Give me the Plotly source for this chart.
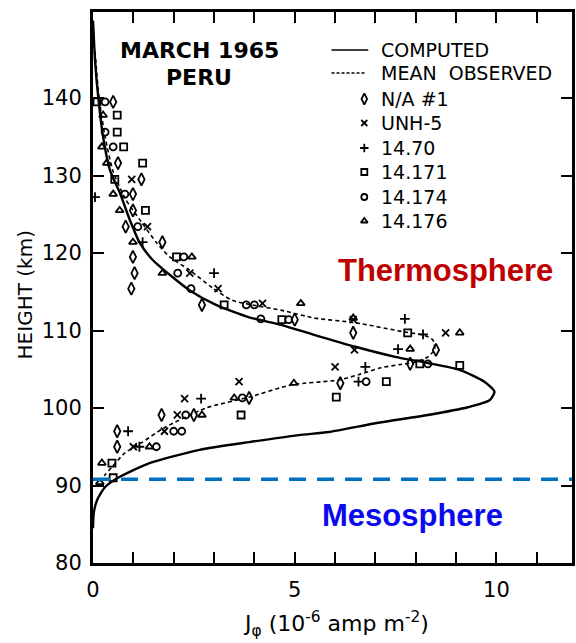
import plotly.graph_objects as go

# ---------------- data ----------------
# computed current density curve (x: J, y: height km)
comp_j = [0.0, 0.05, 0.12, 0.25, 0.42, 0.67, 0.91, 1.16, 1.48, 1.97, 2.39, 3.05, 3.87, 4.68, 5.5,
          6.5, 7.49, 8.3, 9.1, 9.7, 9.95, 9.83, 9.29, 8.3, 7.07, 5.84, 5.1, 3.87, 2.64, 1.4,
          0.62, 0.3, 0.1, 0.02, 0.0]
comp_h = [150, 144.9, 140.6, 135.0, 130.7, 127.7, 124.3, 121.3, 119.1, 116.9, 115.2, 113.3, 111.7,
          110.7, 109.4, 107.9, 106.6, 105.8, 104.9, 103.4, 102.1, 101.0, 100.1, 99.1, 98.1, 96.9,
          96.5, 95.6, 94.6, 92.9, 91.0, 89.8, 88.1, 86.5, 84.5]

# mean observed curve
obs_j = [0.05, 0.15, 0.3, 0.5, 0.8, 1.2, 1.58, 1.9, 2.39, 2.96, 3.45, 3.95, 4.68, 5.5, 6.5, 7.73,
         8.2, 8.42, 8.47, 8.3, 8.0, 7.6, 7.14, 6.58, 6.08, 4.93, 3.87, 2.8, 1.75, 1.2, 0.79,
         0.47, 0.3, 0.12]
obs_h = [146, 140, 135, 130.5, 127, 124, 121.3, 119.5, 117.8, 115.5, 113.9, 113.3, 112.6, 111.6,
         111.0, 109.8, 109.4, 108.8, 107.6, 106.6, 105.9, 105.6, 105.2, 104.3, 103.6, 103.0,
         101.4, 100.0, 97.4, 95.5, 94.2, 92.4, 91.4, 90.2]

# N/A #1 (diamonds)
na1_j = [0.5, 0.62, 1.2, 0.99, 0.99, 0.81, 1.72, 0.99, 1.03, 0.95, 2.7, 5.0, 6.45, 8.5, 7.86,
         6.13, 3.87, 2.5, 1.7, 0.6, 0.6, -0.32]
na1_h = [139.5, 131.6, 129.5, 127.6, 125.5, 123.4, 121.4, 119.5, 117.4, 115.4, 113.3, 111.4,
         109.7, 107.5, 105.7, 103.2, 101.3, 99.1, 99.1, 97.0, 95.0, 92.9]

# UNH-5 (x)
unh_j = [0.96, 1.35, 2.4, 3.1, 4.2, 6.45, 6.48, 8.74, 6.0, 3.62, 2.27, 2.09, 1.77, 1.0]
unh_h = [129.5, 123.4, 117.4, 115.4, 113.5, 111.4, 107.5, 109.7, 105.3, 103.4, 101.2, 99.1,
         97.0, 95.0]

# 14.70 (+)
p70_j = [-0.2, -0.15, 0.05, 1.23, 3.0, 7.73, 8.18, 7.56, 6.75, 6.58, 2.68, 0.87, 1.15, -0.12]
p70_h = [137.5, 135.5, 127.2, 121.4, 117.4, 111.5, 109.5, 107.6, 105.3, 103.4, 101.2, 97.0,
         95.0, 92.9]

# 14.171 (squares)
p171_j = [0.1, 0.6, 0.6, 0.76, 1.23, 0.54, 1.3, 2.07, 3.25, 4.68, 7.8, 8.1, 9.09, 7.27, 6.03,
          3.67, 0.47, 0.5]
p171_h = [139.5, 137.8, 135.6, 133.7, 131.6, 129.5, 125.5, 119.5, 113.3, 111.4, 109.7, 105.7,
          105.5, 103.4, 101.4, 99.1, 92.9, 91.0]

# 14.174 (circles)
p174_j = [0.3, 0.3, 0.5, 0.79, 1.11, 2.25, 2.1, 2.43, 3.8, 4.0, 4.16, 4.85, 8.3, 6.77, 3.7,
          2.3, 2.0, 2.2, 1.57]
p174_h = [139.5, 135.6, 133.7, 127.6, 123.4, 119.5, 117.4, 115.4, 113.3, 113.3, 111.5, 111.4,
          105.7, 103.4, 101.3, 99.1, 97.0, 97.0, 95.0]

# 14.176 (triangles)
p176_j = [0.25, 0.22, 0.34, 0.5, 0.66, 0.99, 2.45, 1.72, 5.15, 6.45, 7.86, 9.09, 4.98, 3.5,
          2.7, 1.4, 0.22, 0.17]
p176_h = [137.8, 133.7, 131.6, 127.6, 125.5, 121.4, 119.5, 117.4, 113.5, 111.6, 107.6, 109.7,
          103.2, 101.3, 99.1, 95.0, 92.9, 90.4]

mesopause_h = 90.8

x_ticks = [0, 5, 10]
x_ticklabels = ["0", "5", "10"]
y_ticks = [80, 90, 100, 110, 120, 130, 140]
y_ticklabels = ["80", "90", "100", "110", "120", "130", "140"]

series_names = ["N/A #1", "UNH-5", "14.70", "14.171", "14.174", "14.176"]
series_symbols = ["diamond-tall-open", "x-thin-open", "cross-thin-open", "square-open",
                  "circle-open", "triangle-up-open"]
series_j = [na1_j, unh_j, p70_j, p171_j, p174_j, p176_j]
series_h = [na1_h, unh_h, p70_h, p171_h, p174_h, p176_h]

# ---------------- layout geometry (pixels) ----------------
W, H = 576, 643
ML, MR, MT, MB = 93, 1, 12, 80
PW = W - ML - MR
PH = H - MT - MB


def xp(px):
    return (px - ML) / PW


def yp(py):
    return (H - MB - py) / PH


FONT = "DejaVu Sans"

fig = go.Figure()

fig.add_trace(go.Scatter(x=comp_j, y=comp_h, mode="lines", line=dict(color="black", width=2.4,
                                                                     shape="spline", smoothing=0.6),
                         hoverinfo="skip"))
fig.add_trace(go.Scatter(x=obs_j, y=obs_h, mode="lines", line=dict(color="black", width=1.6,
                                                                   dash="4px,3px", shape="spline",
                                                                   smoothing=0.6),
                         hoverinfo="skip"))

for name, sym, xs, ys in zip(series_names, series_symbols, series_j, series_h):
    size = 9 if sym.startswith("diamond") else 7
    fig.add_trace(go.Scatter(x=xs, y=ys, mode="markers", name=name,
                             marker=dict(symbol=sym, size=size, color="black",
                                         line=dict(color="black", width=1.8)),
                             cliponaxis=False))

# legend (custom, drawn in an overlay axis spanning the plot area with a 0..1 range)
leg_rows_y = [50, 73, 99, 123, 148, 172, 197, 221]
leg_text_x = 381
leg_marker_x = 366
leg_line_x0, leg_line_x1 = 333, 370
leg_labels = ["COMPUTED", "MEAN  OBSERVED"] + series_names

fig.add_trace(go.Scatter(x=[xp(leg_line_x0), xp(leg_line_x1)], y=[yp(leg_rows_y[0])] * 2,
                         xaxis="x2", yaxis="y2", mode="lines",
                         line=dict(color="black", width=1.6), hoverinfo="skip"))
fig.add_trace(go.Scatter(x=[xp(leg_line_x0), xp(leg_line_x1 - 2)], y=[yp(leg_rows_y[1])] * 2,
                         xaxis="x2", yaxis="y2", mode="lines",
                         line=dict(color="black", width=1.4, dash="3px,2px"), hoverinfo="skip"))
for i, sym in enumerate(series_symbols):
    size = 8 if sym.startswith("diamond") else 6
    fig.add_trace(go.Scatter(x=[xp(leg_marker_x)], y=[yp(leg_rows_y[i + 2])], xaxis="x2",
                             yaxis="y2", mode="markers",
                             marker=dict(symbol=sym, size=size, color="black",
                                         line=dict(color="black", width=1.8)),
                             hoverinfo="skip"))

annotations = []
for lab, ry in zip(leg_labels, leg_rows_y):
    annotations.append(dict(text=lab, xref="paper", yref="paper", x=xp(leg_text_x), y=yp(ry),
                            xanchor="left", yanchor="middle", showarrow=False,
                            font=dict(family=FONT, size=19, color="black")))

annotations += [
    dict(text="<b>MARCH 1965</b>", xref="paper", yref="paper", x=xp(200), y=yp(50),
         xanchor="center", yanchor="middle", showarrow=False,
         font=dict(family=FONT, size=22, color="black")),
    dict(text="<b>PERU</b>", xref="paper", yref="paper", x=xp(200), y=yp(78), xanchor="center",
         yanchor="middle", showarrow=False, font=dict(family=FONT, size=22, color="black")),
    dict(text="HEIGHT (km)", xref="paper", yref="paper", x=xp(25), y=yp(295), xanchor="center",
         yanchor="middle", textangle=-90, showarrow=False,
         font=dict(family=FONT, size=20, color="black")),
    dict(text="J<sub>φ</sub> (10<sup>-6</sup> amp m<sup>-2</sup>)", xref="paper", yref="paper",
         x=xp(338), y=yp(624), xanchor="center", yanchor="middle", showarrow=False,
         font=dict(family=FONT, size=22, color="black")),
    dict(text="<b>Thermosphere</b>", xref="paper", yref="paper", x=xp(448), y=yp(270),
         xanchor="center", yanchor="middle", showarrow=False,
         font=dict(family="Liberation Sans", size=31, color="#c00000")),
    dict(text="<b>Mesosphere</b>", xref="paper", yref="paper", x=xp(415), y=yp(515),
         xanchor="center", yanchor="middle", showarrow=False,
         font=dict(family="Liberation Sans", size=31, color="#0a0af0")),
]

shapes = [
    dict(type="line", xref="paper", yref="y", x0=0, x1=1, y0=mesopause_h, y1=mesopause_h,
         line=dict(color="#0070c0", width=3.5, dash="17px,11px"), layer="above"),
]

x_max = PW / 40.6
y_max = 80 + PH / 7.75

fig.update_layout(
    width=W, height=H, margin=dict(l=ML, r=MR, t=MT, b=MB),
    paper_bgcolor="white", plot_bgcolor="white", showlegend=False,
    xaxis=dict(range=[0, x_max], tickvals=x_ticks, ticktext=x_ticklabels, ticks="inside",
               ticklen=11, tickwidth=2, tickcolor="black", showline=True, linecolor="black",
               linewidth=2.5, mirror="ticks", showgrid=False, zeroline=False,
               minor=dict(dtick=1, tick0=0, ticks="inside", ticklen=11, tickwidth=2,
                          tickcolor="black", showgrid=False),
               tickfont=dict(family=FONT, size=21, color="black"), ticklabelstandoff=6),
    yaxis=dict(range=[80, y_max], tickvals=y_ticks, ticktext=y_ticklabels, ticks="inside",
               ticklen=11, tickwidth=2, tickcolor="black", showline=True, linecolor="black",
               linewidth=3, mirror="ticks", showgrid=False, zeroline=False,
               tickfont=dict(family=FONT, size=21, color="black"), ticklabelstandoff=4),
    xaxis2=dict(range=[0, 1], overlaying="x", visible=False, fixedrange=True),
    yaxis2=dict(range=[0, 1], overlaying="y", visible=False, fixedrange=True),
    annotations=annotations, shapes=shapes,
)

fig.write_html("out.html")
